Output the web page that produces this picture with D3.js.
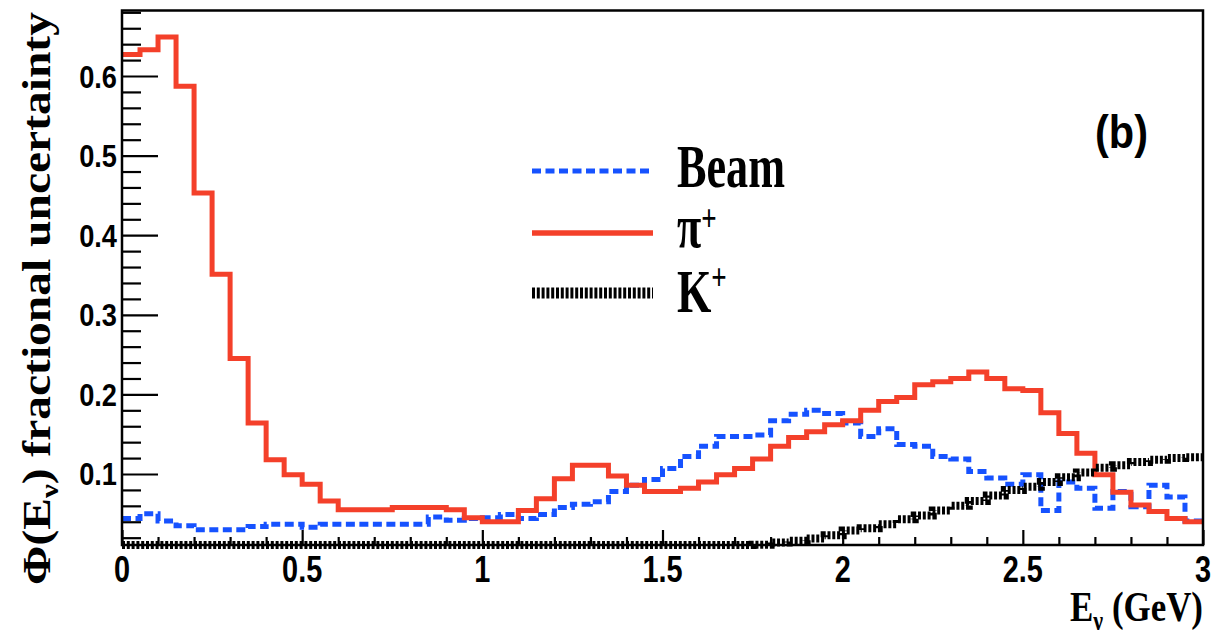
<!DOCTYPE html>
<html><head><meta charset="utf-8">
<script src="https://cdn.jsdelivr.net/npm/d3@7"></script>
<style>body{margin:0;background:#fff}svg{display:block}</style>
</head><body>
<svg id="c" width="1212" height="634"></svg>
<script>
// ---- data ----
const xMin = 0, xMax = 3, nBins = 60;
const beam = [0.044,0.050,0.041,0.035,0.030,0.030,0.030,0.034,0.037,0.037,
              0.033,0.037,0.037,0.037,0.037,0.037,0.037,0.046,0.042,0.044,
              0.045,0.049,0.044,0.049,0.058,0.062,0.065,0.078,0.086,0.093,
              0.107,0.122,0.135,0.147,0.147,0.149,0.167,0.175,0.180,0.176,
              0.164,0.147,0.157,0.137,0.135,0.122,0.119,0.103,0.095,0.087,
              0.099,0.054,0.090,0.082,0.057,0.078,0.059,0.086,0.071,0.041];
const pion = [0.627,0.633,0.649,0.587,0.453,0.351,0.245,0.164,0.118,0.099,
              0.087,0.066,0.055,0.055,0.055,0.058,0.058,0.058,0.055,0.045,
              0.040,0.040,0.054,0.069,0.094,0.111,0.111,0.0975,0.086,0.078,
              0.078,0.082,0.090,0.099,0.107,0.119,0.135,0.146,0.153,0.162,
              0.167,0.180,0.191,0.196,0.212,0.216,0.220,0.228,0.220,0.207,
              0.205,0.177,0.151,0.126,0.099,0.077,0.061,0.053,0.044,0.040];
const kaon = [0.008,0.008,0.008,0.008,0.008,0.008,0.008,0.008,0.008,0.008,
              0.008,0.008,0.008,0.008,0.008,0.008,0.008,0.008,0.008,0.008,
              0.008,0.008,0.008,0.008,0.008,0.008,0.008,0.008,0.008,0.008,
              0.008,0.008,0.008,0.008,0.008,0.011,0.014,0.016,0.019,0.023,
              0.029,0.032,0.037,0.043,0.048,0.054,0.060,0.066,0.073,0.080,
              0.084,0.090,0.096,0.102,0.108,0.111,0.115,0.118,0.120,0.121];
const xTickValues = [0,0.5,1,1.5,2,2.5,3];
const xTickLabels = ["0","0.5","1","1.5","2","2.5","3"];
const yTickValues = [0.1,0.2,0.3,0.4,0.5,0.6];
const yTickLabels = ["0.1","0.2","0.3","0.4","0.5","0.6"];
const legendLabels = ["Beam","π","K"];

// ---- layout ----
const L = 122, R = 1203, T = 10.5, B = 545;
const svg = d3.select("#c");
const x = d3.scaleLinear().domain([xMin, xMax]).range([L, R]);
const y = d3.scaleLinear().domain([0.0108, 0.6823]).range([B, T]).clamp(true);
const binW = (xMax - xMin) / nBins;
const edges = d3.range(nBins).map(i => xMin + i * binW);

const sans = "'Liberation Sans', Arial, sans-serif";
const serif = "'Liberation Serif', 'Times New Roman', serif";
const RED = "#f4402a", BLUE = "#1652ff";

svg.append("defs").append("clipPath").attr("id","clip")
  .append("rect").attr("x", L).attr("y", 0).attr("width", R - L).attr("height", B + 12);

// ticks
const yMinor = d3.range(1, 35).map(i => i * 0.02).filter(v => yTickValues.every(t => Math.abs(t - v) > 1e-6));
const xMinor = d3.range(1, 30).map(i => i * 0.1).filter(v => xTickValues.every(t => Math.abs(t - v) > 1e-6));
function styleAxis(g){ g.select(".domain").remove(); g.selectAll("line").attr("stroke","#000").attr("stroke-width",2.2); g.selectAll("text").remove(); }
svg.append("g").attr("transform",`translate(${L},0)`).call(d3.axisRight(y).tickValues(yTickValues).tickSize(36)).call(styleAxis);
svg.append("g").attr("transform",`translate(${L},0)`).call(d3.axisRight(y).tickValues(yMinor).tickSize(19)).call(styleAxis);
svg.append("g").attr("transform",`translate(0,${B})`).call(d3.axisTop(x).tickValues(xTickValues).tickSize(15)).call(styleAxis);
svg.append("g").attr("transform",`translate(0,${B})`).call(d3.axisTop(x).tickValues(xMinor).tickSize(8)).call(styleAxis);

// histograms
function stepPts(vals){ const p = vals.map((v,i)=>[edges[i], v]); p.push([xMax, vals[vals.length-1]]); return p; }
const line = d3.line().x(d => x(d[0])).y(d => y(d[1])).curve(d3.curveStepAfter);
const plot = svg.append("g").attr("clip-path","url(#clip)");
plot.append("path").attr("d", line(stepPts(beam))).attr("fill","none").attr("stroke",BLUE)
  .attr("stroke-width",5).attr("stroke-dasharray","9,4.5");
plot.append("path").attr("d", line(stepPts(pion))).attr("fill","none").attr("stroke",RED)
  .attr("stroke-width",5).attr("stroke-linejoin","miter");
plot.append("path").attr("d", line(stepPts(kaon))).attr("fill","none").attr("stroke","#000")
  .attr("stroke-width",8).attr("stroke-dasharray","3,1.8");

// frame
svg.append("rect").attr("x",L).attr("y",T).attr("width",R-L).attr("height",B-T)
  .attr("fill","none").attr("stroke","#000").attr("stroke-width",2.5);

// tick labels
svg.append("g").selectAll("text").data(xTickValues).join("text")
  .attr("transform", d => `translate(${x(d)},582) scale(0.78,1)`)
  .attr("text-anchor","middle").attr("font-family",sans).attr("font-weight","bold").attr("font-size",37)
  .text((d,i) => xTickLabels[i]);
svg.append("g").selectAll("text").data(yTickValues).join("text")
  .attr("transform", d => `translate(117,${y(d)+11.5}) scale(0.85,1)`)
  .attr("text-anchor","end").attr("font-family",sans).attr("font-weight","bold").attr("font-size",32)
  .text((d,i) => yTickLabels[i]);

// y title
const yt = svg.append("text").attr("font-family",serif).attr("font-weight","bold").attr("font-size",40);
yt.append("tspan").text("Φ(E");
yt.append("tspan").attr("font-size",26).attr("dy",8).text("ν");
yt.append("tspan").attr("dy",-8).text(") fractional uncertainty");
{ const w = yt.node().getComputedTextLength(); yt.attr("transform",`translate(50,585) rotate(-90) scale(${573/w},1)`); }

// x title
const xt = svg.append("text").attr("font-family",serif).attr("font-weight","bold").attr("font-size",43).attr("text-anchor","end");
xt.append("tspan").text("E");
xt.append("tspan").attr("font-size",27).attr("dy",9).text("ν");
xt.append("tspan").attr("dy",-9).text(" (GeV)");
{ const w = xt.node().getComputedTextLength(); xt.attr("transform",`translate(1203,621) scale(${133/w},1)`); }

// (b)
const bt = svg.append("text").attr("font-family",sans).attr("font-weight","bold").attr("font-size",46).text("(b)");
{ const w = bt.node().getComputedTextLength(); bt.attr("transform",`translate(1095,148) scale(${53/w},1)`); }

// legend
const lg = svg.append("g");
const legY = [171, 233, 293], legBase = [187, 247, 312], supDy = [0, -16.5, -22.5];
lg.append("line").attr("x1",532).attr("x2",653).attr("y1",legY[0]).attr("y2",legY[0]).attr("stroke",BLUE).attr("stroke-width",5).attr("stroke-dasharray","9,4.5");
lg.append("line").attr("x1",532).attr("x2",653).attr("y1",legY[1]).attr("y2",legY[1]).attr("stroke",RED).attr("stroke-width",5.5);
lg.append("line").attr("x1",532).attr("x2",653).attr("y1",legY[2]).attr("y2",legY[2]).attr("stroke","#000").attr("stroke-width",11).attr("stroke-dasharray","3,1.8");
const t0 = lg.append("text").attr("font-family",serif).attr("font-weight","bold").attr("font-size",62).text(legendLabels[0]);
const kL = 108 / t0.node().getComputedTextLength();
t0.attr("transform",`translate(677,${legBase[0]}) scale(${kL},1)`);
[1,2].forEach(i => {
  const t = lg.append("text").attr("font-family",serif).attr("font-weight","bold").attr("font-size",62)
    .attr("transform",`translate(677,${legBase[i]}) scale(${kL},1)`);
  t.append("tspan").text(legendLabels[i]);
  t.append("tspan").attr("font-size",38).attr("dy",supDy[i]).text("+");
});
</script>
</body></html>
